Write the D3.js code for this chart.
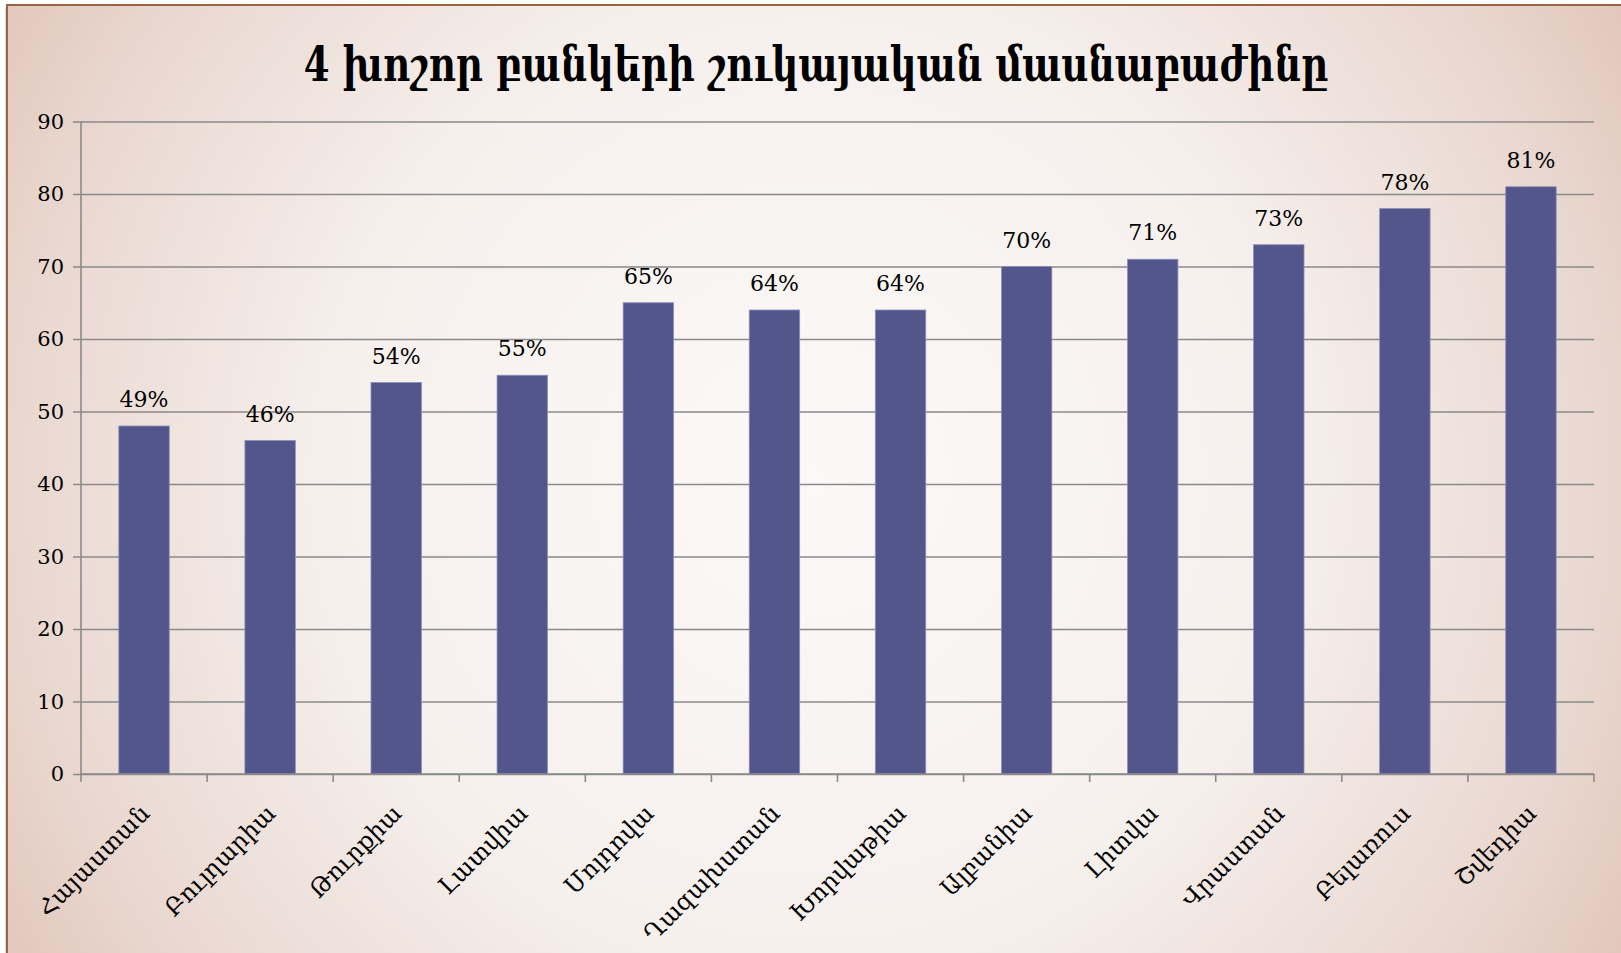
<!DOCTYPE html>
<html>
<head>
<meta charset="utf-8">
<script src="https://cdn.jsdelivr.net/npm/d3@7"></script>
<style>
    body { margin: 0; background: #fff; overflow: hidden; }
    text { font-family: "DejaVu Serif", "Noto Sans", serif; fill: #000; }
</style>
</head>
<body>
<div id="chart"></div>
<script>
const title = "4 խոշոր բանկերի շուկայական մասնաբաժինը";
const categories = ["Հայաստան", "Բուլղարիա", "Թուրքիա", "Լատվիա", "Մոլդովա", "Ղազախստան",
    "Խորվաթիա", "Ալբանիա", "Լիտվա", "Վրաստան", "Բելառուս", "Շվեդիա"];
const values = [48, 46, 54, 55, 65, 64, 64, 70, 71, 73, 78, 81];
const valueLabels = ["49%", "46%", "54%", "55%", "65%", "64%", "64%", "70%", "71%", "73%", "78%", "81%"];
const yTicks = [0, 10, 20, 30, 40, 50, 60, 70, 80, 90];

const W = 1621, H = 953;
const margin = { top: 121.5, right: 27, bottom: 179, left: 81 };
const width = W - margin.left - margin.right,
    height = H - margin.top - margin.bottom;

const svg = d3.select("#chart")
    .append("svg")
    .attr("width", W)
    .attr("height", H);

// background panel with soft radial gradient
const defs = svg.append("defs");
const grad = defs.append("radialGradient")
    .attr("id", "bg")
    .attr("gradientUnits", "userSpaceOnUse")
    .attr("cx", 810).attr("cy", 480).attr("r", 950);
grad.append("stop").attr("offset", 0).attr("stop-color", "#fbf9f8");
grad.append("stop").attr("offset", 0.5).attr("stop-color", "#f6f0ed");
grad.append("stop").attr("offset", 0.84).attr("stop-color", "#e9d7cf");
grad.append("stop").attr("offset", 1).attr("stop-color", "#e1c6ba");

svg.append("rect")
    .attr("x", 5).attr("y", 7)
    .attr("width", W + 20).attr("height", H + 20)
    .attr("fill", "#c8c8c8").attr("opacity", 0.6);
svg.append("rect")
    .attr("x", 7).attr("y", 5)
    .attr("width", W + 20).attr("height", H + 20)
    .attr("fill", "url(#bg)")
    .attr("stroke", "#9a6440")
    .attr("stroke-width", 2);

// title: taller glyphs, squeezed horizontally to the reference width
const titleG = svg.append("g");
const titleText = titleG.append("text")
    .attr("x", 0)
    .attr("y", 0)
    .attr("text-anchor", "middle")
    .style("font-weight", "bold")
    .style("font-size", "49px")
    .text(title);
const sx = Math.min(1, 1025 / titleText.node().getComputedTextLength());
titleG.attr("transform", `translate(816,81) scale(${sx},1)`);

const chart = svg.append("g")
    .attr("transform", `translate(${margin.left},${margin.top})`);

const x = d3.scaleBand()
    .domain(categories)
    .range([0, width])
    .paddingInner(0.6)
    .paddingOuter(0.3);

const y = d3.scaleLinear()
    .domain([0, 90])
    .range([height, 0]);

const step = x.step();
const gridColor = "#8a8a8a";

// gridlines + y axis
const yAxis = chart.append("g")
    .call(d3.axisLeft(y).tickValues(yTicks).tickSize(-width).tickSizeOuter(0).tickPadding(17));
yAxis.select(".domain").remove();
yAxis.selectAll(".tick line")
    .attr("x1", -8)
    .attr("stroke", gridColor)
    .attr("stroke-width", 1.6);
yAxis.selectAll(".tick text")
    .style("font-family", "'DejaVu Serif', serif")
    .style("font-size", "21px");

chart.append("line")
    .attr("x1", 0).attr("x2", 0)
    .attr("y1", 0).attr("y2", height)
    .attr("stroke", gridColor)
    .attr("stroke-width", 1.6);

// bars
chart.selectAll(".bar")
    .data(categories)
    .enter()
    .append("rect")
    .attr("class", "bar")
    .attr("x", d => x(d))
    .attr("y", (d, i) => y(values[i]))
    .attr("width", x.bandwidth())
    .attr("height", (d, i) => height - y(values[i]))
    .attr("fill", "#53568a")
    .attr("stroke", "#8d8fb8")
    .attr("stroke-width", 0.8);

// value labels
chart.selectAll(".label")
    .data(categories)
    .enter()
    .append("text")
    .attr("class", "label")
    .attr("x", d => x(d) + x.bandwidth() / 2)
    .attr("y", (d, i) => y(values[i]) - 19)
    .attr("text-anchor", "middle")
    .style("font-size", "22px")
    .text((d, i) => valueLabels[i]);

// x axis: ticks at category boundaries
const xAxis = chart.append("g")
    .attr("transform", `translate(0,${height})`);
xAxis.append("line")
    .attr("x1", 0).attr("x2", width)
    .attr("stroke", gridColor)
    .attr("stroke-width", 1.6);
xAxis.selectAll(".xtick")
    .data(d3.range(categories.length + 1))
    .enter()
    .append("line")
    .attr("x1", i => i * step).attr("x2", i => i * step)
    .attr("y1", 0).attr("y2", 8)
    .attr("stroke", gridColor)
    .attr("stroke-width", 1.6);

xAxis.selectAll(".xlabel")
    .data(categories)
    .enter()
    .append("text")
    .attr("class", "xlabel")
    .attr("text-anchor", "end")
    .attr("dy", "0.35em")
    .attr("transform", d => `translate(${x(d) + x.bandwidth() / 2 + 1},${35}) rotate(-45)`)
    .style("font-size", "24px")
    .text(d => d);
</script>
</body>
</html>
